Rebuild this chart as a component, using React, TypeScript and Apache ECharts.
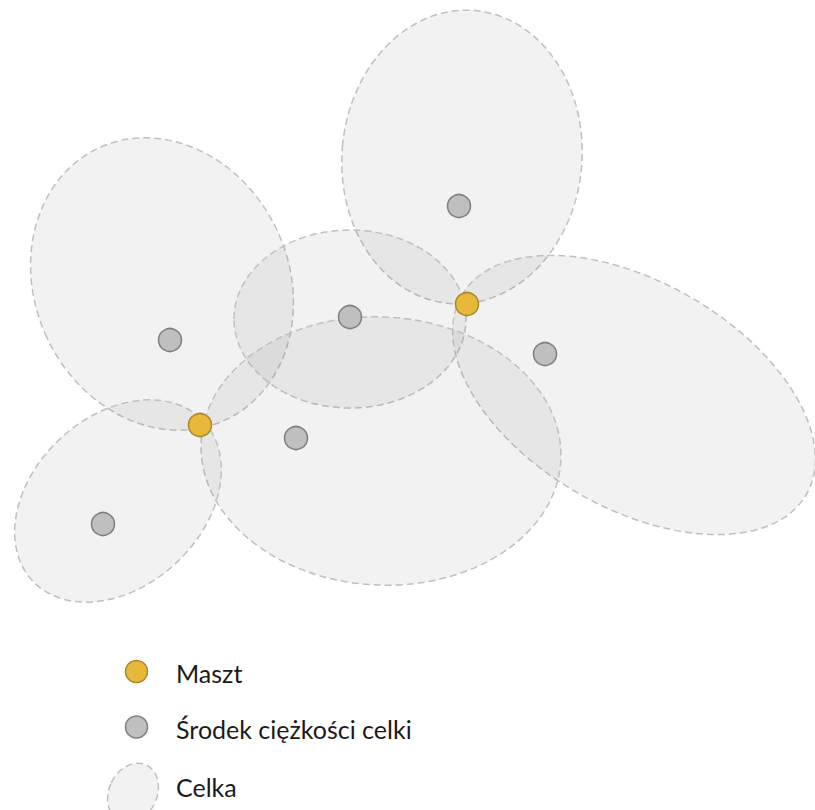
import React, { useEffect, useRef } from "react";
import * as echarts from "echarts";

// Cells (ellipses): centre, semi-axes, rotation (degrees, counter-clockwise)
const cellX = [162, 462, 350, 634, 381, 118];
const cellY = [284, 157, 319, 395, 451, 501];
const cellRx = [127, 120, 116, 199, 180, 117];
const cellRy = [150, 147, 89, 113, 134, 85];
const cellRot = [25, -5, 0, -30, -3, 43];

// Cell centroids
const centroidX = [459, 350, 545, 170, 296, 103];
const centroidY = [206, 317, 354, 340, 438, 524];

// Masts
const mastX = [467, 200];
const mastY = [304, 425];

const legendLabels = ["Maszt", "Środek ciężkości celki", "Celka"];

const CELL_FILL = "rgba(128,128,128,0.1)";
const CELL_STROKE = "#c0c0c0";
const CENTROID_FILL = "#bfbfbf";
const CENTROID_STROKE = "#7f7f7f";
const MAST_FILL = "#e8b83a";
const MAST_STROKE = "#a8872c";

export default function App() {
  const ref = useRef<HTMLDivElement>(null);

  useEffect(() => {
    if (!ref.current) return;
    const chart = echarts.init(ref.current, null, { renderer: "svg" });

    const cellData = cellX.map((x, i) => [x, cellY[i], cellRx[i], cellRy[i], cellRot[i]]);
    const centroidData = centroidX.map((x, i) => [x, centroidY[i]]);
    const mastData = mastX.map((x, i) => [x, mastY[i]]);

    const font = "Lato, 'Open Sans', sans-serif";

    chart.setOption({
      animation: false,
      backgroundColor: "#ffffff",
      grid: { left: 0, right: 0, top: 0, bottom: 0 },
      xAxis: { type: "value", min: 0, max: 815, show: false },
      yAxis: { type: "value", min: 0, max: 810, inverse: true, show: false },
      series: [
        {
          type: "custom",
          name: "Celka",
          clip: false,
          data: cellData,
          renderItem: (params: any, api: any) => {
            const c = api.coord([api.value(0), api.value(1)]);
            const s = api.size([api.value(2), api.value(3)]);
            return {
              type: "ellipse",
              x: c[0],
              y: c[1],
              rotation: (api.value(4) * Math.PI) / 180,
              shape: { cx: 0, cy: 0, rx: Math.abs(s[0]), ry: Math.abs(s[1]) },
              style: {
                fill: CELL_FILL,
                stroke: CELL_STROKE,
                lineWidth: 1.5,
                lineDash: [7, 4],
              },
            };
          },
        },
        {
          type: "scatter",
          name: "Środek ciężkości celki",
          data: centroidData,
          symbol: "circle",
          symbolSize: 23,
          itemStyle: { color: CENTROID_FILL, borderColor: CENTROID_STROKE, borderWidth: 1.5, opacity: 1 },
          z: 3,
        },
        {
          type: "scatter",
          name: "Maszt",
          data: mastData,
          symbol: "circle",
          symbolSize: 23,
          itemStyle: { color: MAST_FILL, borderColor: MAST_STROKE, borderWidth: 1.5, opacity: 1 },
          z: 4,
        },
      ],
      graphic: [
        {
          type: "circle",
          shape: { cx: 136.5, cy: 671.5, r: 11 },
          style: { fill: MAST_FILL, stroke: MAST_STROKE, lineWidth: 1.5 },
        },
        {
          type: "circle",
          shape: { cx: 136.5, cy: 727, r: 11 },
          style: { fill: CENTROID_FILL, stroke: CENTROID_STROKE, lineWidth: 1.5 },
        },
        {
          type: "ellipse",
          x: 133,
          y: 793,
          rotation: (-25 * Math.PI) / 180,
          shape: { cx: 0, cy: 0, rx: 24, ry: 31 },
          style: { fill: CELL_FILL, stroke: CELL_STROKE, lineWidth: 1.5, lineDash: [7, 4] },
        },
        {
          type: "text",
          x: 176,
          y: 672.5,
          style: { text: legendLabels[0], font: `25px ${font}`, fill: "#1a1a1a", verticalAlign: "middle" },
        },
        {
          type: "text",
          x: 176,
          y: 728.5,
          style: { text: legendLabels[1], font: `25px ${font}`, fill: "#1a1a1a", verticalAlign: "middle" },
        },
        {
          type: "text",
          x: 176,
          y: 786.5,
          style: { text: legendLabels[2], font: `25px ${font}`, fill: "#1a1a1a", verticalAlign: "middle" },
        },
      ],
    });

    return () => chart.dispose();
  }, []);

  return (
    <div
      ref={ref}
      style={{ position: "absolute", left: 0, top: 0, width: 815, height: 810 }}
    />
  );
}
